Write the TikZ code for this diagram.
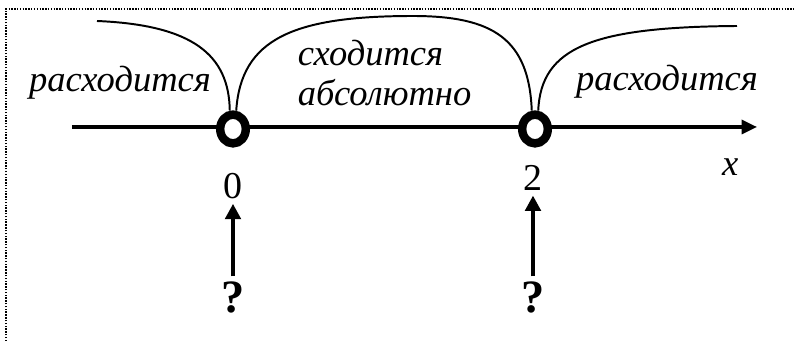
\documentclass[tikz,border=0pt]{standalone}
\usepackage{fontspec}
\setmainfont{Liberation Serif}
\usetikzlibrary{arrows.meta,shapes.geometric}

\begin{document}
\begin{tikzpicture}[
    word/.style={font=\fontsize{26}{28}\selectfont\itshape},
    num/.style={font=\fontsize{27}{29}\selectfont},
    ask/.style={font=\fontsize{33}{35}\selectfont\bfseries},
    hole/.style={draw, ellipse, line width=6pt, fill=white,
        minimum width=0.64cm, minimum height=0.72cm, inner sep=0pt},
    branch/.style={line width=1.4pt},
    up/.style={-{Triangle[length=11pt,width=11pt]}, line width=3pt}]
    \useasboundingbox (-5.825,-5.35) rectangle (14.05,3.175);

    % Frame
    \draw[densely dotted, line width=1pt] (-5.675,-5.35) |- (14.05,2.95);

    % Axis
    \coordinate (xl) at (-4.03,0);
    \coordinate (xr) at (13.1,0);
    \draw[line width=2.2pt, -{Triangle[length=11pt,width=10pt]}] (xl) -- (xr);
    \node[word] (xlab) at (12.43,-1.0) {x};

    % Points
    \node[hole] (p0) at (0,-0.05) {};
    \node[hole] (p2) at (7.55,-0.05) {};
    \node[num] (n0) at (0,-1.475) {0};
    \node[num] (n2) at (7.5,-1.275) {2};

    % Curves
    \coordinate (c1) at (-3.4,2.65);
    \coordinate (ctop) at (4.5,2.775);
    \coordinate (c2) at (12.6,2.525);
    \draw[branch] (c1) .. controls (-1.0,2.55) and (-0.1,1.8) .. (p0.100);
    \draw[branch] (p0.80) .. controls (0.2,2.2) and (1.5,2.775) .. (ctop)
        .. controls (6.5,2.775) and (7.4,2.2) .. (p2.100);
    \draw[branch] (p2.80) .. controls (7.7,2.0) and (9.0,2.5) .. (c2);

    % Labels
    \node[word] (div1) at (-2.825,1.1) {расходится};
    \node[word, align=left, anchor=west] (conv) at (1.5,1.35) {сходится\\абсолютно};
    \node[word] (div2) at (10.85,1.125) {расходится};

    % Questions
    \node[ask] (q0) at (0,-4.25) {?};
    \node[ask] (q2) at (7.5,-4.25) {?};
    \draw[up] (q0) -- (n0);
    \draw[up] (q2) -- (n2);
\end{tikzpicture}
\end{document}
